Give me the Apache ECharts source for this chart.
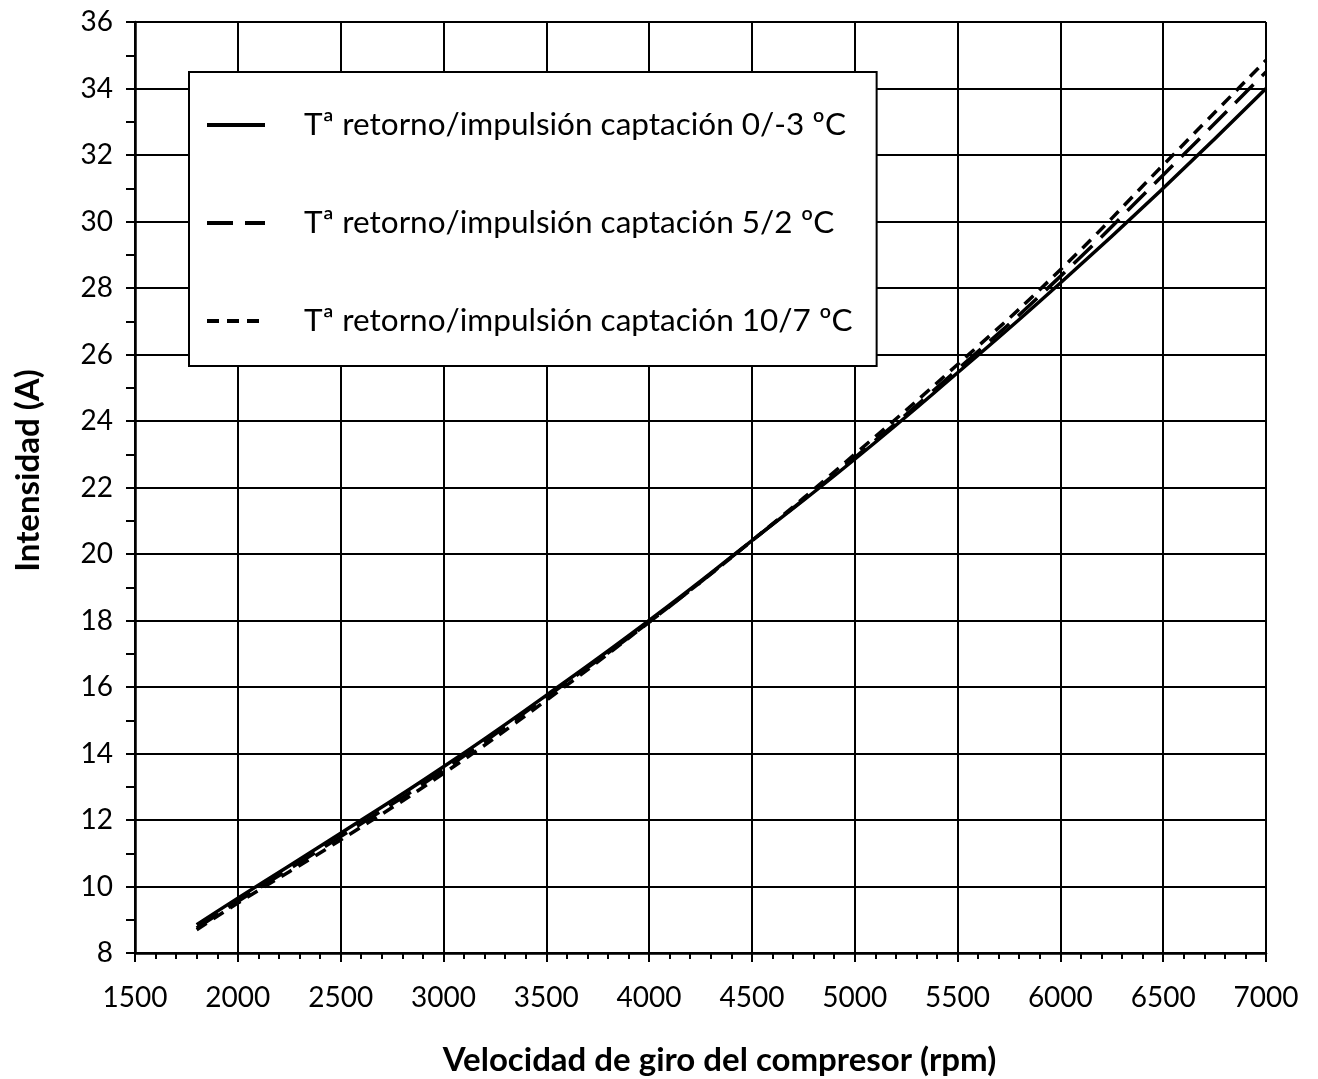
<!DOCTYPE html>
<html>
<head>
<meta charset="utf-8">
<script src="https://cdn.jsdelivr.net/npm/echarts@6/dist/echarts.min.js"></script>
<style>
  html, body { margin: 0; padding: 0; background: #fff; }
  #chart { width: 1318px; height: 1079px; }
</style>
</head>
<body>
<div id="chart"></div>
<script>
// velocidad de giro (rpm)
const rpm = [1800, 2000, 2500, 3000, 3500, 4000, 4500, 5000, 5500, 6000, 6500, 7000];
// intensidad (A) por temperatura de captación
const serie_0_3 = [8.85, 9.65, 11.6, 13.6, 15.75, 18.0, 20.4, 22.85, 25.45, 28.15, 31.0, 34.0];
const serie_5_2 = [8.75, 9.55, 11.5, 13.5, 15.7, 17.95, 20.4, 22.9, 25.55, 28.35, 31.4, 34.5];
const serie_10_7 = [8.7, 9.5, 11.4, 13.4, 15.6, 17.95, 20.4, 23.0, 25.7, 28.55, 31.7, 34.85];

const names = [
  'Tª retorno/impulsión captación 0/-3 ºC',
  'Tª retorno/impulsión captación 5/2 ºC',
  'Tª retorno/impulsión captación 10/7 ºC'
];

const font = 'Lato';

function pairs(ys) {
  return rpm.map((x, i) => [x, ys[i]]);
}

function makeSeries(name, ys, dash) {
  return {
    name: name,
    type: 'line',
    smooth: true,
    symbol: 'none',
    data: pairs(ys),
    lineStyle: { color: '#000', width: 3.5, type: dash, cap: 'butt' },
    itemStyle: { color: '#000' },
    z: 3
  };
}

const chart = echarts.init(document.getElementById('chart'));

chart.setOption({
  animation: false,
  backgroundColor: '#fff',
  grid: { left: 135, right: 52, top: 22, bottom: 126, outerBoundsMode: 'none' },
  legend: {
    orient: 'vertical',
    left: 189,
    top: 72,
    backgroundColor: '#fff',
    borderColor: '#000',
    borderWidth: 2,
    borderRadius: 0,
    padding: [37, 24, 29, 16],
    itemWidth: 58,
    itemHeight: 30,
    itemGap: 66,
    itemStyle: { opacity: 0 },
    lineStyle: { width: 4 },
    textStyle: { fontFamily: font, fontSize: 31.5, lineHeight: 30, color: '#000', padding: [0, 0, 0, 34] },
    data: names
  },
  xAxis: {
    type: 'value',
    min: 1500,
    max: 7000,
    interval: 500,
    name: 'Velocidad de giro del compresor (rpm)',
    nameLocation: 'middle',
    nameGap: 91,
    nameTextStyle: { fontFamily: font, fontSize: 33, fontWeight: 'bold', color: '#000', padding: [0, 0, 0, 38] },
    axisLine: { onZero: false, lineStyle: { color: '#000', width: 2.5 } },
    axisTick: { show: true, length: 9, lineStyle: { color: '#000', width: 2 } },
    minorTick: { show: true, splitNumber: 5, length: 6, lineStyle: { color: '#000', width: 2 } },
    splitLine: { show: true, lineStyle: { color: '#000', width: 2 } },
    axisLabel: { fontFamily: font, fontSize: 28, color: '#000', margin: 31, formatter: v => String(v) }
  },
  yAxis: {
    type: 'value',
    min: 8,
    max: 36,
    interval: 2,
    name: 'Intensidad (A)',
    nameLocation: 'middle',
    nameGap: 90,
    nameTextStyle: { fontFamily: font, fontSize: 33, fontWeight: 'bold', color: '#000', padding: [0, 0, 0, 34] },
    axisLine: { show: true, onZero: false, lineStyle: { color: '#000', width: 2.5 } },
    axisTick: { show: true, length: 9, lineStyle: { color: '#000', width: 2 } },
    minorTick: { show: true, splitNumber: 2, length: 9, lineStyle: { color: '#000', width: 2 } },
    splitLine: { show: true, lineStyle: { color: '#000', width: 2 } },
    axisLabel: { fontFamily: font, fontSize: 28, color: '#000', margin: 22, formatter: v => String(v) }
  },
  series: [
    makeSeries(names[0], serie_0_3, 'solid'),
    makeSeries(names[1], serie_5_2, [26, 12]),
    makeSeries(names[2], serie_10_7, [12, 8])
  ]
});
</script>
</body>
</html>
